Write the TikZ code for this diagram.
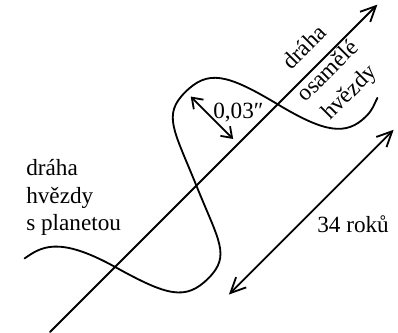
\documentclass[tikz,border=0pt]{standalone}
\usepackage{fontspec}
\setmainfont{Liberation Serif}
\usetikzlibrary{arrows.meta}
\tikzset{
  orbline/.style={line width=1.3pt, line cap=round},
  orbarr/.style={orbline, -{Straight Barb[length=3.8mm,width=3.6mm]}},
  orbtext/.style={inner sep=0pt, font=\fontsize{16.5}{19}\selectfont},
}

\begin{document}
\begin{tikzpicture}[
  x=0.025cm, y=0.025cm,
  gaparr/.style={orbline, {Straight Barb[length=2.4mm,width=3.4mm]}-{Straight Barb[length=2.4mm,width=3.4mm]}},
  spanarr/.style={orbline, {Straight Barb[length=3.8mm,width=3.6mm]}-{Straight Barb[length=3.8mm,width=3.6mm]}},
]
  \useasboundingbox (0,0) rectangle (398,332);

  % frame turned along the path of the lone star
  \begin{scope}[shift={(50,0)}, rotate=45]
    \coordinate (lone0) at (0,0);
    \coordinate (lone1) at (463,0);
    \draw[orbarr] (lone0) -- (lone1);

    % wavy path of the star with a planet
    \draw[orbline] (34,70) .. controls +(-10:20) and +(106:65) .. (92,0)
      .. controls +(-74:60) and +(-32,0) .. (150,-74)
      .. controls +(32,0) and +(247:60) .. (207,0)
      .. controls +(67:60) and +(-32,0) .. (265,74)
      .. controls +(32,0) and +(104:60) .. (322,0)
      .. controls +(-76:55) and +(-28,0) .. (376,-71)
      .. controls +(10,0) and +(-163:8) .. (397,-66);

    \coordinate (gapA) at (266,67);
    \coordinate (gapB) at (266,7);
    \draw[gaparr] (gapA) -- (gapB);

    \coordinate (perA) at (386,-100);
    \coordinate (perB) at (153,-100);
    \draw[spanarr] (perA) -- (perB);

    \coordinate (lt1c) at (381,14);
    \coordinate (lt2c) at (381,-19);
    \coordinate (lt3c) at (381,-49);
  \end{scope}

  \node[orbtext, rotate=45, anchor=base] (lt1) at (lt1c) {dráha};
  \node[orbtext, rotate=45, anchor=base] (lt2) at (lt2c) {osamělé};
  \node[orbtext, rotate=45, anchor=base] (lt3) at (lt3c) {hvězdy};

  \node[orbtext, anchor=base west] (gaplbl) at (213,214) {0,03″};
  \node[orbtext, anchor=base west] (perlbl) at (317,100) {34 roků};

  \node[orbtext, anchor=base west] (pl1) at (26,157) {dráha};
  \node[orbtext, anchor=base west] (pl2) at (26,129) {hvězdy};
  \node[orbtext, anchor=base west] (pl3) at (26,102) {s planetou};
\end{tikzpicture}
\end{document}
